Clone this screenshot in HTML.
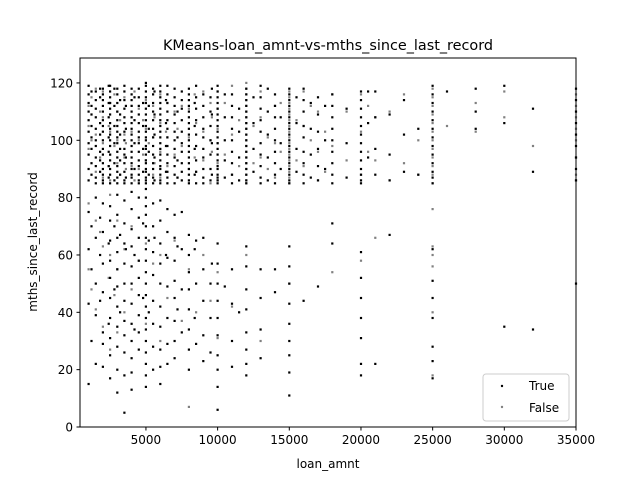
<!DOCTYPE html>
<html><head><meta charset="utf-8"><style>
body{margin:0;background:#fff;}
svg{display:block;font-family:"DejaVu Sans","Liberation Sans",sans-serif;}
</style></head><body>
<svg id="chart" width="640" height="480">
<rect width="640" height="480" fill="#fff"/>
<text x="328" y="50" font-size="14.4" text-anchor="middle">KMeans-loan_amnt-vs-mths_since_last_record</text>
<g id="pts"></g>
<rect x="80" y="58" width="496" height="369" fill="none" stroke="#000" stroke-width="1"/>
<g id="axes"></g>
<text x="328" y="468" font-size="12" text-anchor="middle">loan_amnt</text>
<text x="0" y="0" font-size="12" text-anchor="middle" transform="translate(37,242) rotate(-90)">mths_since_last_record</text>
<g>
<rect x="483" y="374" width="86" height="47" rx="3" fill="#fff" stroke="#ccc" fill-opacity="0.8"/>
<circle cx="502" cy="386" r="1.2" fill="#000"/>
<text x="529" y="390" font-size="12">True</text>
<circle cx="502" cy="407" r="1.2" fill="#808080"/>
<text x="529" y="412" font-size="12">False</text>
</g>
</svg>
<script>
const xTicks=[5000,10000,15000,20000,25000,30000,35000];
const yTicks=[0,20,40,60,80,100,120];
const colX=[1000,1200,1500,1800,2000,2400,2500,2800,3000,3200,3500,3600,4000,4200,4500,4800,5000,5200,5500,5600,6000,6400,6500,7000,7200,7500,8000,8400,8500,9000,9500,9600,10000,10500,11000,11500,12000,12500,13000,13500,14000,14400,15000,15500,16000,16500,17000,17500,18000,19000,20000,20500,21000,22000,23000,24000,25000,26000,28000,30000,32000,35000];
const trueY=[
[86,90,95,99,103,107,110,113,116,119,75,62,43,15],
[88,92,97,101,105,109,112,117,70,55,30],
[85,87,91,94,98,100,104,108,111,114,117,80,66,50,39,22],
[89,93,96,102,106,115,118,73,60,44],
[85,86,88,90,92,95,97,100,103,105,107,110,112,114,116,118,78,68,57,47,33,29,21],
[87,91,96,101,108,113,119,64,36],
[85,88,90,93,95,98,100,102,104,106,109,111,113,115,117,119,77,72,65,58,52,45,38,31,25,17],
[86,92,99,105,112,118,70,48],
[85,87,89,91,94,96,99,101,103,105,107,110,113,116,118,81,74,66,61,55,49,42,35,28,20,12],
[88,93,97,102,109,114,67,40],
[85,86,89,92,95,97,100,103,106,108,111,114,117,119,79,71,64,57,50,44,37,32,26,18,5],
[87,94,104,112,62],
[85,87,88,90,92,94,96,98,100,102,104,106,108,110,112,114,116,118,82,76,69,63,56,50,43,36,30,24,19,13],
[90,99,107,115,60,34],
[85,86,88,91,93,96,99,101,103,106,109,112,115,118,80,73,66,58,52,46,39,33,27],
[89,97,105,113,71,45],
[85,86,87,89,90,92,93,95,97,98,100,101,103,105,107,109,111,113,115,117,119,120,83,80,77,74,70,66,62,58,54,50,46,42,38,34,30,26,22,18,14],
[88,96,104,112,65,40],
[85,87,90,92,95,98,101,104,107,110,113,116,118,78,70,61,53,44,36,28,20],
[86,94,102,109,117,66],
[85,86,88,90,91,93,95,97,99,101,103,105,107,109,111,113,115,117,119,79,72,64,57,50,42,35,27,21,15],
[89,98,106,114,60],
[85,87,89,92,95,98,101,104,107,110,113,116,119,76,68,59,49,38,29,22],
[85,88,91,94,97,100,103,106,109,112,115,118,74,66,58,51,45,37,30,24],
[87,93,101,110,63,41],
[86,89,92,96,99,103,107,111,114,117,75,62,48,33],
[85,86,88,90,92,94,96,98,100,102,104,106,108,110,112,114,116,118,67,60,54,48,41,34,27,20],
[88,97,105,113,62,38],
[85,89,93,98,102,107,111,115,119,65,50,29],
[85,87,90,94,97,101,104,108,112,116,66,55,44,32,23],
[86,90,95,100,105,110,115,50,38,26],
[88,99,109,118,57],
[85,86,87,88,90,91,93,95,97,99,101,103,105,107,109,111,113,115,117,119,64,57,50,44,38,32,25,20,14,6],
[87,93,100,108,116,49],
[85,88,92,96,100,104,108,112,116,55,43,30,21],
[86,94,103,111,40],
[85,86,88,90,92,94,96,98,100,102,104,106,108,110,112,114,116,118,63,56,48,41,33,27,22,18],
[89,97,106,115],
[85,87,91,95,99,103,107,111,115,119,55,45,34,24],
[86,94,102,110,118],
[85,88,92,96,100,104,108,112,116,55,47],
[90,99,108],
[85,86,88,90,92,94,96,98,100,102,104,106,108,110,112,114,116,118,63,56,50,43,36,30,25,19,11],
[89,97,106,115],
[85,88,92,96,101,105,110,114,118,44],
[87,95,104,113],
[86,91,97,103,109,115,49],
[90,100,112],
[85,88,92,96,100,104,108,112,116,71,64],
[87,99,111],
[85,86,88,90,93,96,99,102,105,108,111,114,117,61,52,45,38,31,22,18],
[94,106,117],
[88,97,108,117,22],
[86,95,109,67],
[89,102,114],
[88,104],
[85,87,89,92,95,98,101,104,107,110,113,116,119,62,51,45,38,28,23,17],
[117],
[104,110,118],
[106,119,35],
[111,89,34],
[86,90,94,98,102,106,110,114,118,50]
];
const falseY=[
[97,105,112,78,55],
[100,115,48],
[89,102,118,72,41],
[94,110,68],
[87,99,108,117,63,35],
[91,105,52],
[86,95,103,113,81,60,27],
[98,116,46],
[92,100,110,72,55,33],
[88,107],
[94,102,115,62,40],
[90,99],
[91,103,112,70,48],
[86,117],
[90,100,111,58],
[95,107],
[93,104,114,64,36],
[99],
[88,101,112,57],
[92,108],
[87,96,106,116,60,30],
[103],
[91,101,113,45],
[95,110,65],
[87,104],
[98,112,37],
[90,101,111,55,7],
[94,116],
[89,106,40],
[93,103,117,60],
[85,100,113,44],
[96,108],
[86,92,99,104,111,117,54,31],
[95,113],
[88,102,119,42],
[91,107],
[85,86,88,90,92,94,96,98,100,102,104,106,108,110,112,114,116,118,120,60],
[92,105],
[94,108,117,30],
[90,101],
[87,99,112],
[96,113],
[85,87,89,91,93,95,97,99,101,103,105,107,109,111,113,115,117,50],
[93,107],
[91,105,117],
[100,112],
[86,96,110],
[89,103],
[98,116,54],
[93,110],
[88,103,116,58],
[96,112],
[93,108,66],
[110,86],
[92,116],
[88,100],
[85,88,91,94,97,100,103,106,109,112,115,118,76,63,60,56,40,18],
[105],
[103,113],
[108,117],
[98],
[88,94,100,104,108,112,116,86]
];
const X0=400,X1=35000,Y0=0,Y1=128.7,L=80,R=576,T=58,B=427;
function sx(v){return L+(v-X0)/(X1-X0)*(R-L);}
function sy(v){return B-(v-Y0)/(Y1-Y0)*(B-T);}
const NS="http://www.w3.org/2000/svg";
const pts=document.getElementById('pts');
function dot(x,y,c,nm){
  const e=document.createElementNS(NS,'rect');
  e.setAttribute('x',(sx(x)-1.1).toFixed(1));
  e.setAttribute('y',(sy(y)-1.1).toFixed(1));
  e.setAttribute('width','2.2');e.setAttribute('height','2.2');
  e.setAttribute('fill',c);
  
  
  pts.appendChild(e);
}
colX.forEach((x,i)=>{(falseY[i]||[]).forEach(y=>dot(x,y,'#808080','point-false'));});
colX.forEach((x,i)=>{(trueY[i]||[]).forEach(y=>dot(x,y,'#000','point-true'));});
const ax=document.getElementById('axes');
xTicks.forEach(t=>{
  const l=document.createElementNS(NS,'line');
  l.setAttribute('x1',sx(t));l.setAttribute('x2',sx(t));l.setAttribute('y1',B);l.setAttribute('y2',B+3.5);l.setAttribute('stroke','#000');
  
  
  ax.appendChild(l);
  const s=document.createElementNS(NS,'text');
  s.setAttribute('x',sx(t));s.setAttribute('y',B+17);s.setAttribute('font-size','12');s.setAttribute('text-anchor','middle');
  s.textContent=t;
  
  
  ax.appendChild(s);
});
yTicks.forEach(t=>{
  const l=document.createElementNS(NS,'line');
  l.setAttribute('x1',L-3.5);l.setAttribute('x2',L);l.setAttribute('y1',sy(t));l.setAttribute('y2',sy(t));l.setAttribute('stroke','#000');
  
  
  ax.appendChild(l);
  const s=document.createElementNS(NS,'text');
  s.setAttribute('x',L-7);s.setAttribute('y',sy(t)+4.5);s.setAttribute('font-size','12');s.setAttribute('text-anchor','end');
  s.textContent=t;
  
  
  ax.appendChild(s);
});
</script>
</body></html>
